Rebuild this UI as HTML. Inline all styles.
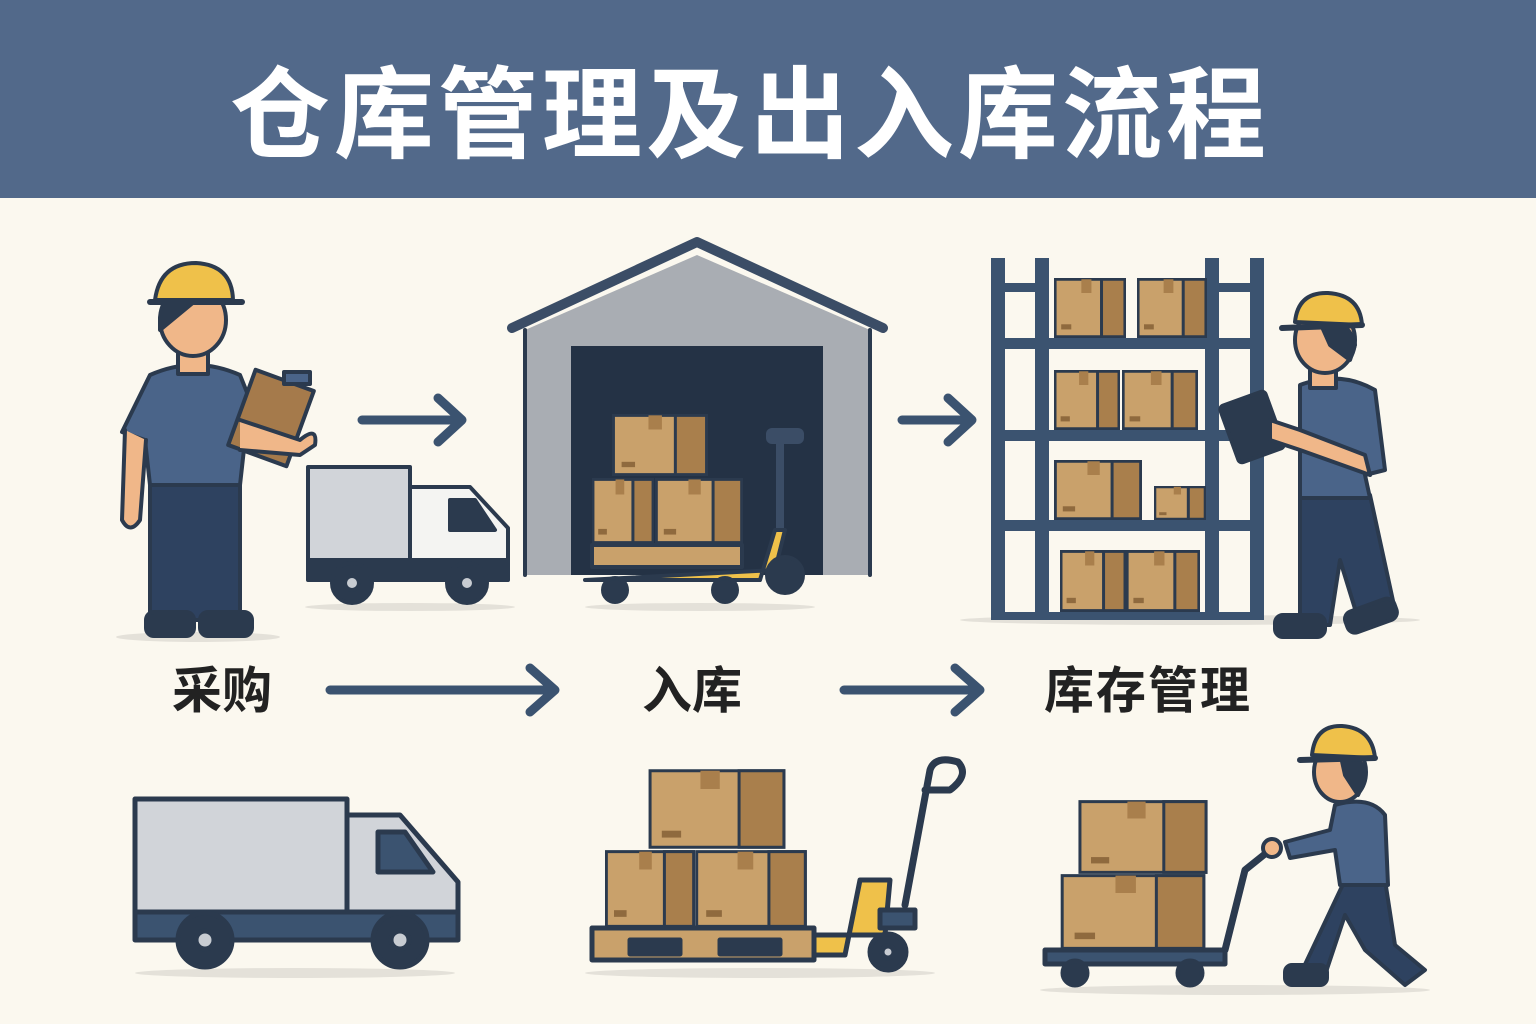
<!DOCTYPE html>
<html><head><meta charset="utf-8"><style>
html,body{margin:0;padding:0;background:#fbf8ef;}
svg{display:block}
text{font-family:"Liberation Sans","Noto Sans CJK SC",sans-serif;font-weight:bold}
</style></head><body>
<svg width="1536" height="1024" viewBox="0 0 1536 1024" xmlns="http://www.w3.org/2000/svg">
<defs>
<symbol id="box" viewBox="0 0 100 70" preserveAspectRatio="none">
 <rect x="1.5" y="1.5" width="97" height="67" fill="#c9a16b" stroke="#2b3a4e" stroke-width="3" vector-effect="non-scaling-stroke"/>
 <rect x="66" y="1.5" width="32.5" height="67" fill="#a97f4c" stroke="#2b3a4e" stroke-width="3" vector-effect="non-scaling-stroke"/>
 <rect x="38" y="1.5" width="14" height="16" fill="#a97f4c"/>
 <rect x="10" y="54" width="14" height="6" fill="#8f6a3e"/>
</symbol>
<symbol id="wheel" viewBox="0 0 40 40">
 <circle cx="20" cy="20" r="17" fill="#2b3a4e"/><circle cx="20" cy="20" r="7" fill="#c8ccd2"/>
</symbol>
</defs>
<rect width="1536" height="1024" fill="#fbf8ef"/>
<rect width="1536" height="198" fill="#52698a"/>
<text x="750" y="150" text-anchor="middle" font-size="100" fill="#fff" letter-spacing="4">仓库管理及出入库流程</text>

<g stroke="#2b3a4e" stroke-width="4" stroke-linejoin="round" stroke-linecap="round">
<!-- shadows -->
<g stroke="none" fill="#e4e1d9">
<ellipse cx="198" cy="637" rx="82" ry="5"/><ellipse cx="410" cy="607" rx="105" ry="4"/>
<ellipse cx="700" cy="607" rx="115" ry="4"/><ellipse cx="1190" cy="620" rx="230" ry="5"/>
<ellipse cx="295" cy="973" rx="160" ry="5"/><ellipse cx="760" cy="973" rx="175" ry="5"/>
<ellipse cx="1235" cy="990" rx="195" ry="5"/>
</g>

<!-- worker 1 -->
<rect x="150" y="480" width="90" height="140" fill="#2e4260"/>
<rect x="146" y="612" width="48" height="24" rx="8" fill="#2b3a4e"/>
<rect x="200" y="612" width="52" height="24" rx="8" fill="#2b3a4e"/>
<path d="M150 375 Q195 355 240 375 L262 430 L245 440 L240 485 L150 485 L145 440 L122 432 Z" fill="#4a6489"/>
<path d="M125 430 L122 520 Q130 535 140 520 L146 440" fill="#f0b789"/>
<rect x="178" y="348" width="30" height="26" fill="#f0b789"/>
<ellipse cx="193" cy="320" rx="33" ry="36" fill="#f0b789"/>
<path d="M160 318 Q165 295 200 297 L160 330 Z" fill="#2b3a4e"/>
<path d="M155 300 Q160 263 196 263 Q232 265 233 300 Z" fill="#efc14a"/>
<path d="M150 302 L242 302" stroke-width="6"/>
<rect x="240" y="378" width="62" height="80" fill="#a57a4b" transform="rotate(20 271 418)"/>
<rect x="284" y="372" width="26" height="12" fill="#4a6489"/>
<path d="M240 420 L300 440 Q318 425 315 445 L300 455 L240 450" fill="#f0b789"/>

<!-- small arrows -->
<path d="M362 420 H460 M438 398 L462 420 L438 442" fill="none" stroke="#3b5370" stroke-width="9"/>
<path d="M902 420 H970 M948 398 L972 420 L948 442" fill="none" stroke="#3b5370" stroke-width="9"/>

<!-- small truck -->
<rect x="308" y="467" width="102" height="105" fill="#d1d4d9"/>
<path d="M410 487 H470 L508 528 V572 H410 Z" fill="#f4f4f2"/>
<path d="M450 500 H475 L495 530 H450 Z" fill="#2b3a4e"/>
<rect x="308" y="560" width="200" height="20" fill="#2b3a4e"/>
<circle cx="352" cy="583" r="20" fill="#2b3a4e"/><circle cx="352" cy="583" r="7" fill="#c8ccd2"/>
<circle cx="467" cy="583" r="20" fill="#2b3a4e"/><circle cx="467" cy="583" r="7" fill="#c8ccd2"/>

<!-- warehouse -->
<path d="M525 330 L697 255 L870 330 V575 H525 Z" fill="#a9adb3" stroke="none"/>
<path d="M512 328 L697 242 L883 328" fill="none" stroke="#3b4d66" stroke-width="10"/>
<path d="M525 330 V575 M870 330 V575" fill="none"/>
<rect x="571" y="346" width="252" height="229" fill="#243245" stroke="none"/>
<path d="M780 440 V540" stroke="#3b4d66" stroke-width="8"/>
<rect x="766" y="428" width="38" height="16" rx="6" fill="#3b4d66" stroke="none"/>
<path d="M585 580 H760 L775 530 H785 L775 570 Z" fill="#efc14a"/>
<circle cx="785" cy="575" r="18" fill="#2b3a4e"/>
<circle cx="615" cy="590" r="12" fill="#2b3a4e"/><circle cx="725" cy="590" r="12" fill="#2b3a4e"/>
<rect x="592" y="545" width="150" height="22" fill="#c9a16b"/>
</g>
<use href="#box" x="612" y="414" width="96" height="62"/>
<use href="#box" x="592" y="478" width="62" height="66"/>
<use href="#box" x="655" y="478" width="88" height="66"/>

<g stroke="#2b3a4e" stroke-width="4" stroke-linejoin="round" stroke-linecap="round">
<!-- shelf -->
<g fill="#3b5370" stroke="none">
<rect x="991" y="258" width="14" height="360"/><rect x="1035" y="258" width="14" height="360"/>
<rect x="1205" y="258" width="14" height="360"/><rect x="1250" y="258" width="14" height="360"/>
<rect x="991" y="338" width="273" height="11"/><rect x="991" y="430" width="273" height="11"/>
<rect x="991" y="520" width="273" height="11"/><rect x="991" y="612" width="273" height="8"/>
<rect x="991" y="283" width="58" height="9"/><rect x="1205" y="283" width="59" height="9"/>
</g>
</g>
<use href="#box" x="1054" y="278" width="72" height="60"/>
<use href="#box" x="1137" y="278" width="70" height="60"/>
<use href="#box" x="1054" y="370" width="66" height="60"/>
<use href="#box" x="1122" y="370" width="76" height="60"/>
<use href="#box" x="1054" y="460" width="88" height="60"/>
<use href="#box" x="1154" y="486" width="52" height="34"/>
<use href="#box" x="1060" y="550" width="66" height="62"/>
<use href="#box" x="1126" y="550" width="74" height="62"/>

<g stroke="#2b3a4e" stroke-width="4" stroke-linejoin="round" stroke-linecap="round">
<!-- worker 2 -->
<path d="M1300 495 L1370 495 L1395 610 L1360 625 L1340 560 L1330 625 L1300 625 Z" fill="#2e4260"/>
<rect x="1275" y="615" width="50" height="22" rx="8" fill="#2b3a4e"/>
<rect x="1345" y="605" width="52" height="22" rx="8" fill="#2b3a4e" transform="rotate(-20 1370 616)"/>
<path d="M1300 385 Q1340 370 1375 390 L1385 470 L1365 475 L1370 498 L1300 498 Z" fill="#4a6489"/>
<rect x="1310" y="360" width="26" height="28" fill="#f0b789"/>
<ellipse cx="1325" cy="340" rx="30" ry="33" fill="#f0b789"/>
<path d="M1318 318 Q1350 320 1355 345 L1350 360 L1330 345 Z" fill="#2b3a4e"/>
<path d="M1295 322 Q1298 292 1328 293 Q1360 295 1362 325 Z" fill="#efc14a"/>
<path d="M1282 328 L1362 325" stroke-width="6"/>
<rect x="1228" y="397" width="48" height="60" rx="4" fill="#2b3a4e" transform="rotate(-20 1252 427)"/>
<path d="M1270 420 L1300 430 L1365 455 L1370 475 L1300 450 L1270 440 Z" fill="#f0b789"/>

<!-- long arrows -->
<path d="M330 690 H552 M530 668 L555 690 L530 712" fill="none" stroke="#3b5370" stroke-width="9"/>
<path d="M844 690 H977 M955 668 L980 690 L955 712" fill="none" stroke="#3b5370" stroke-width="9"/>
</g>
<text x="222" y="708" text-anchor="middle" font-size="50" fill="#222">采购</text>
<text x="692" y="708" text-anchor="middle" font-size="50" fill="#222">入库</text>
<text x="1148" y="708" text-anchor="middle" font-size="50" fill="#222" letter-spacing="2">库存管理</text>

<g stroke="#2b3a4e" stroke-width="5" stroke-linejoin="round" stroke-linecap="round">
<!-- big truck -->
<rect x="135" y="799" width="212" height="115" fill="#d1d4d9"/>
<path d="M347 815 H400 L458 882 V935 H347 Z" fill="#d1d4d9"/>
<path d="M378 832 H405 L433 872 H378 Z" fill="#3b5370"/>
<rect x="135" y="912" width="323" height="28" fill="#3b5370"/>
<circle cx="205" cy="940" r="27" fill="#2b3a4e"/><circle cx="205" cy="940" r="9" fill="#c8ccd2"/>
<circle cx="400" cy="940" r="27" fill="#2b3a4e"/><circle cx="400" cy="940" r="9" fill="#c8ccd2"/>

<!-- pallet jack -->
<path d="M905 905 L930 770 Q935 755 958 762 Q970 775 950 790 L925 790" fill="none" stroke="#2b3a4e" stroke-width="7"/>
<path d="M810 955 L845 955 L860 880 L890 880 L885 935 L810 935 Z" fill="#efc14a"/>
<rect x="880" y="910" width="35" height="18" fill="#3b5370"/>
<circle cx="888" cy="952" r="18" fill="#2b3a4e"/><circle cx="888" cy="952" r="6" fill="#c8ccd2"/>
<rect x="592" y="928" width="222" height="32" fill="#c9a16b"/>
<rect x="630" y="940" width="50" height="14" fill="#2b3a4e"/><rect x="720" y="940" width="60" height="14" fill="#2b3a4e"/>

<!-- cart -->
<path d="M1225 950 L1245 870 L1270 850" fill="none" stroke-width="7"/>
<rect x="1045" y="950" width="180" height="14" fill="#3b5370"/>
<circle cx="1075" cy="973" r="12" fill="#2b3a4e"/><circle cx="1190" cy="973" r="12" fill="#2b3a4e"/>
</g>
<use href="#box" x="648" y="769" width="138" height="80"/>
<use href="#box" x="605" y="850" width="90" height="78"/>
<use href="#box" x="695" y="850" width="112" height="78"/>
<use href="#box" x="1078" y="800" width="130" height="74"/>
<use href="#box" x="1060" y="874" width="146" height="76"/>

<g stroke="#2b3a4e" stroke-width="4" stroke-linejoin="round" stroke-linecap="round">
<!-- worker 3 pushing -->
<path d="M1345 880 L1385 880 L1395 945 L1425 970 L1405 985 L1365 950 L1345 915 L1325 975 L1300 975 Z" fill="#2e4260"/>
<rect x="1285" y="965" width="42" height="20" rx="7" fill="#2b3a4e"/>
<path d="M1335 805 Q1370 795 1385 815 L1388 885 L1340 885 L1335 850 L1290 858 L1285 842 L1330 830 Z" fill="#4a6489"/>
<circle cx="1272" cy="848" r="9" fill="#f0b789"/>
<ellipse cx="1340" cy="772" rx="26" ry="30" fill="#f0b789"/>
<path d="M1340 752 Q1365 755 1365 780 L1358 795 L1345 775 Z" fill="#2b3a4e"/>
<path d="M1312 755 Q1315 725 1342 726 Q1372 728 1375 758 Z" fill="#efc14a"/>
<path d="M1300 760 L1375 758" stroke-width="6"/>
</g>
</svg>
</body></html>
